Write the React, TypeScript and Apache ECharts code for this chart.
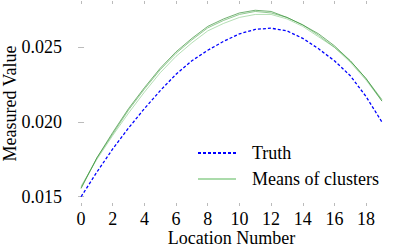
import React, { useEffect, useRef } from "react";
import * as echarts from "echarts";

const locations = [0, 1, 2, 3, 4, 5, 6, 7, 8, 9, 10, 11, 12, 13, 14, 15, 16, 17, 18, 19];
const truth = [0.0150, 0.01665, 0.0182, 0.0196, 0.0209, 0.0221, 0.0232, 0.0241, 0.0248, 0.0254, 0.0259, 0.0262, 0.02628, 0.0261, 0.0256, 0.0249, 0.0241, 0.0231, 0.0217, 0.0200];
const clusterA = [0.01555, 0.0176, 0.0193, 0.0209, 0.0223, 0.0236, 0.0247, 0.0256, 0.0264, 0.0269, 0.0273, 0.02748, 0.0274, 0.0270, 0.0265, 0.0259, 0.0251, 0.0241, 0.0229, 0.0214];
const clusterB = [0.0157, 0.0175, 0.0191, 0.0206, 0.0220, 0.0233, 0.0244, 0.0253, 0.0261, 0.0266, 0.0270, 0.0272, 0.0272, 0.0269, 0.0264, 0.0257, 0.0250, 0.0240, 0.0228, 0.0214];
const clusterC = [0.0156, 0.0176, 0.0192, 0.0208, 0.0222, 0.0235, 0.0246, 0.0255, 0.0263, 0.0268, 0.0272, 0.0274, 0.0273, 0.0270, 0.0265, 0.0258, 0.0250, 0.0241, 0.0229, 0.0215];
const xTicks = [0, 2, 4, 6, 8, 10, 12, 14, 16, 18];
const yTicks = [0.015, 0.02, 0.025];

const FONT = '"Liberation Serif", "DejaVu Serif", serif';

export default function App() {
  const ref = useRef<HTMLDivElement>(null);
  useEffect(() => {
    if (!ref.current) return;
    const chart = echarts.init(ref.current, null, { renderer: "svg" });
    const pts = (ys: number[]) => locations.map((x, i) => [x, ys[i]]);
    const tick = {
      show: true,
      inside: true,
      length: 3,
      lineStyle: { color: "#bbbbbb", width: 1 },
    };
    const greenSeries = (data: number[], color: string) => ({
      type: "line",
      name: "Means of clusters",
      data: pts(data),
      showSymbol: false,
      symbol: "none",
      lineStyle: { color, width: 0.9, opacity: 0.75 },
      itemStyle: { color },
      z: 3,
    });
    chart.setOption({
      animation: false,
      backgroundColor: "#ffffff",
      grid: { left: 66, right: 2, top: 1, bottom: 42, outerBoundsMode: "none", containLabel: false },
      legend: {
        orient: "vertical",
        left: 197,
        top: 144,
        padding: 0,
        itemWidth: 38,
        itemHeight: 18,
        itemGap: 8,
        data: ["Truth", "Means of clusters"],
        itemStyle: { opacity: 0 },
        textStyle: { fontFamily: FONT, fontSize: 18, color: "#000", lineHeight: 18, padding: [0, 0, 0, 11] },
      },
      xAxis: [
        {
          type: "value",
          min: -0.95,
          max: 19.95,
          name: "Location Number",
          nameLocation: "middle",
          nameGap: 23,
          nameMoveOverlap: false,
          nameTextStyle: { fontFamily: FONT, fontSize: 18, color: "#000" },
          axisLine: { show: false },
          splitLine: { show: false },
          axisTick: { ...tick, customValues: xTicks },
          axisLabel: {
            customValues: xTicks,
            fontFamily: FONT,
            fontSize: 18,
            color: "#000",
            margin: 4,
            formatter: (v: number) => String(v),
          },
        },
        {
          type: "value",
          position: "top",
          min: -0.95,
          max: 19.95,
          axisLine: { show: false },
          splitLine: { show: false },
          axisTick: { ...tick, customValues: xTicks },
          axisLabel: { show: false, customValues: xTicks },
        },
      ],
      yAxis: [
        {
          type: "value",
          min: 0.01438,
          max: 0.0281,
          name: "Measured Value",
          nameLocation: "middle",
          nameGap: 47,
          nameMoveOverlap: false,
          nameTextStyle: { fontFamily: FONT, fontSize: 18, color: "#000" },
          axisLine: { show: false },
          splitLine: { show: false },
          axisTick: { ...tick, customValues: yTicks },
          axisLabel: {
            customValues: yTicks,
            fontFamily: FONT,
            fontSize: 18,
            color: "#000",
            margin: 4,
            formatter: (v: number) => v.toFixed(3),
          },
        },
        {
          type: "value",
          position: "right",
          min: 0.01438,
          max: 0.0281,
          axisLine: { show: false },
          splitLine: { show: false },
          axisTick: { ...tick, customValues: yTicks },
          axisLabel: { show: false, customValues: yTicks },
        },
      ],
      series: [
        {
          type: "line",
          name: "Truth",
          data: pts(truth),
          showSymbol: false,
          symbol: "none",
          lineStyle: { color: "#0000ff", width: 1.3, type: [3, 2] },
          itemStyle: { color: "#0000ff" },
          z: 4,
        },
        greenSeries(clusterB, "#8fcf8f"),
        greenSeries(clusterC, "#5cae5c"),
        greenSeries(clusterA, "#2e8b2e"),
      ],
    });
    return () => chart.dispose();
  }, []);
  return <div ref={ref} style={{ width: 399, height: 248, position: "absolute", left: 0, top: 0 }} />;
}
